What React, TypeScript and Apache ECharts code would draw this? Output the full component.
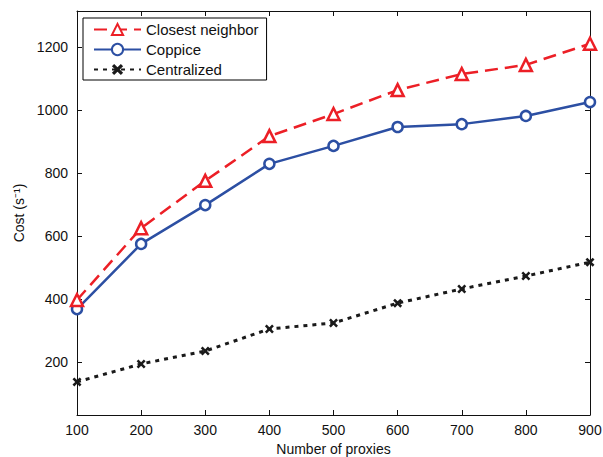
import React, { useEffect, useRef } from "react";
import * as echarts from "echarts";

const proxies = [100, 200, 300, 400, 500, 600, 700, 800, 900];
const closestNeighbor = [397, 625, 775, 917, 987, 1063, 1114, 1143, 1210];
const coppice = [368, 575, 698, 829, 886, 946, 955, 981, 1025];
const centralized = [137, 194, 235, 305, 324, 387, 432, 473, 517];
const yTicks = [200, 400, 600, 800, 1000, 1200];

const X_PATH = "path://M2,0 L5,3 L8,0 L10,2 L7,5 L10,8 L8,10 L5,7 L2,10 L0,8 L3,5 L0,2 Z";

export default function App() {
  const ref = useRef<HTMLDivElement>(null);
  useEffect(() => {
    document.body.style.margin = "0";
    if (!ref.current) return;
    const chart = echarts.init(ref.current, null, { renderer: "svg" });
    const font = "Liberation Sans, Arial, Helvetica, sans-serif";
    const toPairs = (arr: number[]) => arr.map((v, i) => [proxies[i], v]);
    chart.setOption({
      animation: false,
      textStyle: { fontFamily: font },
      grid: { left: 77, right: 13, top: 11, bottom: 42, containLabel: false, outerBoundsMode: "none" },
      legend: {
        orient: "vertical",
        left: 83,
        top: 18,
        itemWidth: 47,
        itemHeight: 14,
        itemGap: 5,
        borderColor: "#000",
        borderWidth: 1,
        borderRadius: 0,
        padding: [4, 8, 3, 10],
        backgroundColor: "#fff",
        textStyle: { fontSize: 15, color: "#111", fontFamily: font },
        data: ["Closest neighbor", "Coppice", "Centralized"],
      },
      xAxis: [
        {
          type: "value",
          min: 100,
          max: 900,
          interval: 100,
          name: "Number of proxies",
          nameLocation: "middle",
          nameGap: 27,
          nameTextStyle: { fontSize: 14, color: "#111" },
          axisLine: { show: true, lineStyle: { color: "#111", width: 1 } },
          axisTick: { inside: true, length: 5, lineStyle: { color: "#111" } },
          axisLabel: { fontSize: 14, color: "#111", margin: 8 },
          splitLine: { show: false },
        },
        {
          type: "value",
          position: "top",
          min: 100,
          max: 900,
          interval: 100,
          axisLine: { show: true, onZero: false, lineStyle: { color: "#111", width: 1 } },
          axisTick: { inside: true, length: 5, lineStyle: { color: "#111" } },
          axisLabel: { show: false },
          splitLine: { show: false },
        },
      ],
      yAxis: [
        {
          type: "value",
          min: 32,
          max: 1314,
          name: "Cost (s⁻¹)",
          nameLocation: "middle",
          nameGap: 50,
          nameTextStyle: { fontSize: 14, color: "#111" },
          axisLine: { show: true, lineStyle: { color: "#111", width: 1 } },
          axisTick: { inside: true, length: 5, customValues: yTicks, lineStyle: { color: "#111" } },
          axisLabel: {
            fontSize: 14,
            color: "#111",
            margin: 9,
            customValues: yTicks,
            formatter: (v: number) => String(v),
          },
          splitLine: { show: false },
        },
        {
          type: "value",
          position: "right",
          min: 32,
          max: 1314,
          axisLine: { show: true, onZero: false, lineStyle: { color: "#111", width: 1 } },
          axisTick: { inside: true, length: 5, customValues: yTicks, lineStyle: { color: "#111" } },
          axisLabel: { show: false, customValues: yTicks },
          splitLine: { show: false },
        },
      ],
      series: [
        {
          name: "Closest neighbor",
          type: "line",
          data: toPairs(closestNeighbor),
          symbol: "triangle",
          symbolSize: 12,
          color: "#ec1f26",
          lineStyle: { color: "#ec1f26", width: 2.5, type: [13, 7] },
          itemStyle: { color: "#fff", borderColor: "#ec1f26", borderWidth: 2.5 },
          z: 3,
        },
        {
          name: "Coppice",
          type: "line",
          data: toPairs(coppice),
          symbol: "circle",
          symbolSize: 10,
          color: "#2c4fa3",
          lineStyle: { color: "#2c4fa3", width: 2.5, type: "solid" },
          itemStyle: { color: "#fff", borderColor: "#2c4fa3", borderWidth: 2.5 },
          z: 2,
        },
        {
          name: "Centralized",
          type: "line",
          data: toPairs(centralized),
          symbol: X_PATH,
          symbolSize: 9,
          color: "#1a1a1a",
          lineStyle: { color: "#1a1a1a", width: 3, type: [4, 5] },
          itemStyle: { color: "#1a1a1a" },
          z: 1,
        },
      ],
    });
    return () => chart.dispose();
  }, []);
  return <div ref={ref} style={{ width: 603, height: 457 }} />;
}
